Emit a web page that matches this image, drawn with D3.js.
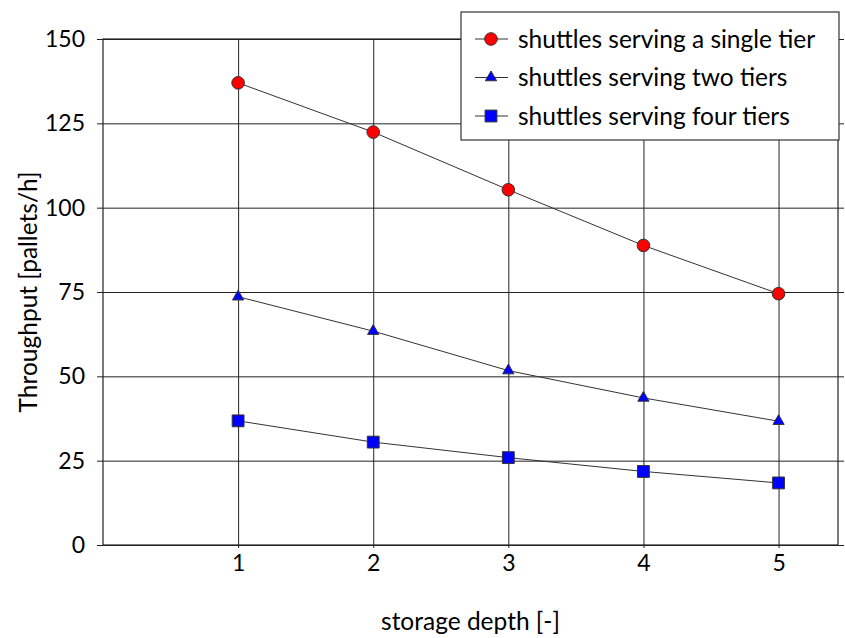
<!DOCTYPE html>
<html lang="en">
<head>
  <meta charset="utf-8">
  <title>Throughput vs storage depth</title>
  <script src="https://d3js.org/d3.v7.min.js"></script>
  <style>
    body { margin: 0; background: #fff; }
    #chart text { font-family: Lato, "Open Sans", sans-serif; fill: #000; }
    .grid line { stroke: #222; stroke-width: 1; }
    .grid path { display: none; }
  </style>
</head>
<body>
  <div id="chart"></div>

  <script type="text/javascript">
    "use strict"

    // data
    var depths = [1, 2, 3, 4, 5];
    var singleTier = [137.0, 122.4, 105.3, 88.8, 74.5];
    var twoTiers = [73.6, 63.4, 51.7, 43.6, 36.7];
    var fourTiers = [36.8, 30.5, 25.9, 21.8, 18.4];
    var yTicks = [0, 25, 50, 75, 100, 125, 150];
    var seriesNames = ["shuttles serving a single tier", "shuttles serving two tiers", "shuttles serving four tiers"];

    var larguraSVG = 845, alturaSVG = 638;
    var margin = {top: 39, right: 7, bottom: 93, left: 103},
        larguraVis = larguraSVG - margin.left - margin.right,
        alturaVis = alturaSVG - margin.top - margin.bottom;

    var svg = d3.select('#chart')
      .append('svg')
        .attr('width', larguraSVG)
        .attr('height', alturaSVG);

    var grafico = svg.append('g')
        .attr('transform', 'translate(' + margin.left + ',' + margin.top + ')');

    var x = d3.scaleLinear()
              .domain([0, 5.44])
              .range([0, larguraVis]);

    var y = d3.scaleLinear()
              .domain([0, 150])
              .range([alturaVis, 0]);

    var series = [
      {name: seriesNames[0], values: singleTier, shape: 'circle', fill: '#ff0000'},
      {name: seriesNames[1], values: twoTiers, shape: 'triangle', fill: '#0000ff'},
      {name: seriesNames[2], values: fourTiers, shape: 'square', fill: '#0000ff'}
    ];

    /*
     * grid
     */
    grafico.append('g')
      .attr('class', 'grid')
      .call(d3.axisLeft(y).tickValues(yTicks).tickSize(-larguraVis).tickFormat(''));

    grafico.append('g')
      .attr('class', 'grid')
      .attr('transform', 'translate(0,' + alturaVis + ')')
      .call(d3.axisBottom(x).tickValues(depths).tickSize(-alturaVis).tickFormat(''));

    /*
     * axes
     */
    var eixoY = grafico.append('g')
      .call(d3.axisLeft(y).tickValues(yTicks).tickSizeInner(6).tickSizeOuter(0).tickPadding(12));

    grafico.append('g')
      .attr('transform', 'translate(' + larguraVis + ',0)')
      .call(d3.axisRight(y).tickValues(yTicks).tickSizeInner(6).tickSizeOuter(0).tickFormat(''));

    var eixoX = grafico.append('g')
      .attr('transform', 'translate(0,' + alturaVis + ')')
      .call(d3.axisBottom(x).tickValues(depths).tickFormat(d3.format('d'))
              .tickSizeInner(3).tickSizeOuter(0).tickPadding(7));

    grafico.selectAll('.domain').remove();
    grafico.selectAll('.tick line').attr('stroke', '#222');
    eixoY.selectAll('text').style('font-size', '23px');
    eixoX.selectAll('text').style('font-size', '23px');

    grafico.append('rect')
      .attr('width', larguraVis)
      .attr('height', alturaVis)
      .attr('fill', 'none')
      .attr('stroke', '#222')
      .attr('stroke-width', 1.2);

    grafico.append('text')
      .attr('x', larguraVis / 2)
      .attr('y', alturaVis + 85)
      .attr('text-anchor', 'middle')
      .style('font-size', '24.5px')
      .text('storage depth [-]');

    grafico.append('text')
      .attr('transform', 'translate(' + (-66) + ',' + alturaVis / 2 + ') rotate(-90)')
      .attr('text-anchor', 'middle')
      .style('font-size', '24.5px')
      .text('Throughput [pallets/h]');

    /*
     * markers
     */
    function desenhaMarca(sel, s) {
      if (s.shape === 'circle') {
        sel.append('circle').attr('r', 6.3);
      } else if (s.shape === 'triangle') {
        sel.append('path').attr('d', d3.symbol(d3.symbolTriangle, 55)());
      } else {
        sel.append('path').attr('d', d3.symbol(d3.symbolSquare, 140)());
      }
      sel.selectAll('circle, path')
        .attr('fill', s.fill)
        .attr('stroke', '#333')
        .attr('stroke-width', 1);
    }

    var linha = d3.line()
      .x(function(d, i) { return x(depths[i]); })
      .y(function(d) { return y(d); });

    series.forEach(function(s) {
      grafico.append('path')
        .attr('d', linha(s.values))
        .attr('fill', 'none')
        .attr('stroke', '#333')
        .attr('stroke-width', 1);

      grafico.selectAll(null)
        .data(s.values)
        .enter()
        .append('g')
          .attr('transform', function(d, i) { return 'translate(' + x(depths[i]) + ',' + y(d) + ')'; })
          .each(function() { desenhaMarca(d3.select(this), s); });
    });

    /*
     * legend
     */
    var legenda = svg.append('g')
      .attr('transform', 'translate(461,12)');

    legenda.append('rect')
      .attr('width', 378)
      .attr('height', 128)
      .attr('fill', '#fff')
      .attr('stroke', '#333')
      .attr('stroke-width', 1.2);

    series.forEach(function(s, i) {
      var item = legenda.append('g')
        .attr('transform', 'translate(0,' + (27 + i * 38.5) + ')');

      item.append('line')
        .attr('x1', 14).attr('x2', 47)
        .attr('stroke', '#333')
        .attr('stroke-width', 1);

      desenhaMarca(item.append('g').attr('transform', 'translate(30,0)'), s);

      item.append('text')
        .attr('x', 57)
        .attr('dy', '0.35em')
        .style('font-size', '24.5px')
        .text(s.name);
    });
  </script>
</body>
</html>
